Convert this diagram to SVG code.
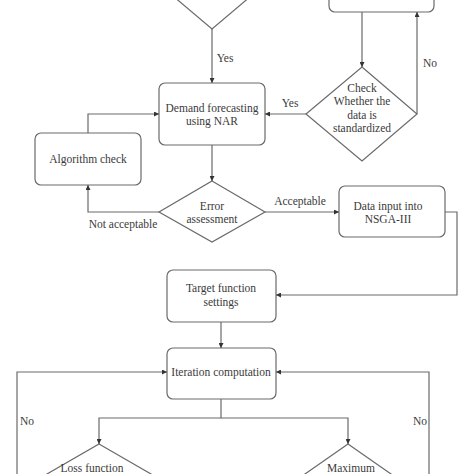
<svg xmlns="http://www.w3.org/2000/svg" width="474" height="474" viewBox="0 0 474 474">
<style>
.n{fill:#fff;stroke:#6a6a6a;stroke-width:1.2}
.c{fill:none;stroke:#6a6a6a;stroke-width:1.2}
text{font-family:"Liberation Serif","Times New Roman",serif;font-size:11.5px;fill:#3a3a3a;text-anchor:middle}
</style>
<defs>
<marker id="a" viewBox="0 0 10 10" refX="10" refY="5" markerWidth="5" markerHeight="5" orient="auto" markerUnits="userSpaceOnUse">
<path d="M0,0 L10,5 L0,10 z" fill="#333"/>
</marker>
</defs>
<rect width="474" height="474" fill="#fff"/>
<g id="top-diamond"><polygon class="n" points="212,-60 264,-15 212,29 160,-15"/></g>
<g id="top-box"><rect class="n" x="329" y="-40" width="105" height="52" rx="6"/></g>
<g id="demand"><rect class="n" x="159" y="83" width="106" height="62" rx="6"/>
<text x="212" y="112">Demand forecasting</text><text x="212" y="125">using NAR</text></g>
<g id="check"><polygon class="n" points="362,67 417,114 362,161 306,114"/>
<text x="362" y="92">Check</text><text x="362" y="105">Whether the</text><text x="362" y="119">data is</text><text x="362" y="132">standardized</text></g>
<g id="algo"><rect class="n" x="35" y="133" width="106" height="52" rx="6"/>
<text x="88" y="163">Algorithm check</text></g>
<g id="error"><polygon class="n" points="212,181 265,212 212,242 159,212"/>
<text x="212" y="210">Error</text><text x="212" y="223">assessment</text></g>
<g id="datain"><rect class="n" x="339" y="186" width="106" height="51" rx="6"/>
<text x="388" y="210">Data input into</text><text x="388" y="223">NSGA-III</text></g>
<g id="target"><rect class="n" x="167" y="270" width="109" height="52" rx="6"/>
<text x="221" y="292">Target function</text><text x="221" y="306">settings</text></g>
<g id="iter"><rect class="n" x="167" y="348" width="109" height="51" rx="6"/>
<text x="221" y="376">Iteration computation</text></g>
<g id="loss"><polygon class="n" points="99,444 151,474 99,504 47,474"/>
<text x="92" y="472">Loss function</text></g>
<g id="max"><polygon class="n" points="348,444 391,474 348,504 305,474"/>
<text x="351" y="472">Maximum</text></g>
<g id="connectors">
<path class="c" d="M212,29 V83" marker-end="url(#a)"/>
<path class="c" d="M362,12 V67" marker-end="url(#a)"/>
<path class="c" d="M417,114 V12" marker-end="url(#a)"/>
<path class="c" d="M306,114 H265" marker-end="url(#a)"/>
<path class="c" d="M88,133 V114 H159" marker-end="url(#a)"/>
<path class="c" d="M212,145 V181" marker-end="url(#a)"/>
<path class="c" d="M159,212 H88 V185" marker-end="url(#a)"/>
<path class="c" d="M265,212 H339" marker-end="url(#a)"/>
<path class="c" d="M445,212 H457 V295 H276" marker-end="url(#a)"/>
<path class="c" d="M221,322 V348" marker-end="url(#a)"/>
<path class="c" d="M221,399 V418 H99 V444" marker-end="url(#a)"/>
<path class="c" d="M221,418 H348 V444" marker-end="url(#a)"/>
<path class="c" d="M17,480 V372 H167" marker-end="url(#a)"/>
<path class="c" d="M429,480 V372 H276" marker-end="url(#a)"/>
<text x="225" y="62">Yes</text>
<text x="430" y="67">No</text>
<text x="290" y="107">Yes</text>
<text x="123" y="228">Not acceptable</text>
<text x="300" y="205">Acceptable</text>
<text x="27" y="425">No</text>
<text x="420" y="425">No</text>
</g>
</svg>
